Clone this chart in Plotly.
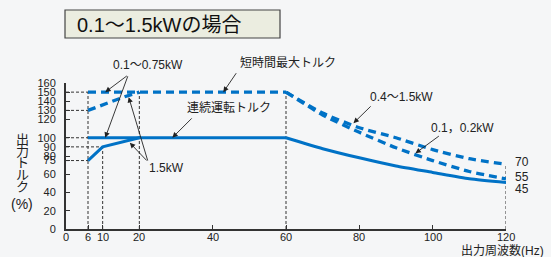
import plotly.graph_objects as go

# ---------------- data ----------------
# continuous torque (solid)
cont_075_x = [6, 60]
cont_075_y = [100, 100]
cont_15_x = [6, 10, 20]
cont_15_y = [75, 90, 100]
cont_high_x = [60, 70, 80, 90, 100, 110, 120]
cont_high_y = [100, 88, 78, 69, 62, 55, 51]

# short-time maximum torque (dashed)
max_075_x = [6, 60]
max_075_y = [150, 150]
max_15_x = [6, 16, 20]
max_15_y = [130, 145, 150]
max_small_x = [60, 70, 80, 90, 100, 110, 120]          # 0.1, 0.2kW
max_small_y = [150, 127, 111, 100, 87, 77, 71]
max_large_x = [60, 70, 80, 90, 100, 110, 120]          # 0.4~1.5kW
max_large_y = [150, 125, 106, 89, 75, 63, 55]

# guide lines (x0, y0, x1, y1)
guides = [
    (0, 150, 6, 150), (0, 130, 6, 130), (0, 100, 6, 100), (0, 90, 10, 90), (0, 75, 6, 75),
    (6, 0, 6, 150), (10, 0, 10, 90), (20, 0, 20, 150), (60, 0, 60, 150), (120, 0, 120, 70),
]

x_ticks = [0, 6, 10, 20, 40, 60, 80, 100, 120]
y_ticks = [0, 20, 40, 60, 75, 80, 90, 100, 120, 130, 140, 150, 160]
end_labels = ["70", "55", "45"]

BLUE = "#0072C6"
DARK = "#333333"
FONT = "Liberation Sans, Noto Sans CJK JP, sans-serif"
BG = "#f5f6f7"

L, T, PW, PH = 66, 83, 440, 146
W, H = 551, 257


def px(xp):
    return (xp - L) / PW


def py(yp):
    return (T + PH - yp) / PH


fig = go.Figure()

for (x0, y0, x1, y1) in guides:
    fig.add_trace(go.Scatter(x=[x0, x1], y=[y0, y1], mode="lines",
                             line=dict(color=DARK, width=1, dash="3px,2px"),
                             hoverinfo="skip"))

for xs, ys, shp in [(cont_075_x, cont_075_y, "linear"), (cont_15_x, cont_15_y, "linear"),
                    (cont_high_x, cont_high_y, "spline")]:
    fig.add_trace(go.Scatter(x=xs, y=ys, mode="lines",
                             line=dict(color=BLUE, width=3, shape=shp, smoothing=0.6)))

for xs, ys, shp in [(max_075_x, max_075_y, "linear"), (max_15_x, max_15_y, "linear"),
                    (max_small_x, max_small_y, "spline"), (max_large_x, max_large_y, "spline")]:
    fig.add_trace(go.Scatter(x=xs, y=ys, mode="lines",
                             line=dict(color=BLUE, width=3.3, dash="8px,5px",
                                       shape=shp, smoothing=0.6)))

# arrows: (head_x, head_y, tail_x, tail_y) in data units
arrows = [
    (10.7, 150, 17.0, 169), (10.7, 100, 17.0, 169),
    (17.1, 144.5, 22.4, 73.4), (17.4, 94.5, 22.4, 73.4),
    (42.9, 150, 46.7, 172.4),
    (29.0, 100, 34.7, 122.9),
    (78.4, 116, 83.5, 136),
    (95.3, 83, 102.1, 103),
]
for hx, hy, tx, ty in arrows:
    fig.add_annotation(x=hx, y=hy, ax=tx, ay=ty, axref="x", ayref="y",
                       text="", showarrow=True, arrowhead=2, arrowsize=1.2,
                       arrowwidth=0.9, arrowcolor="#222222")

# text labels (pixel centre positions)
texts = [
    ("0.1～0.75kW", 148, 65),
    ("1.5kW", 166, 168),
    ("短時間最大トルク", 288, 63),
    ("連続運転トルク", 229, 108),
    ("0.4～1.5kW", 401, 97),
    ("0.1，0.2kW", 462, 128),
]
for t, x, y in texts:
    fig.add_annotation(x=px(x), y=py(y), xref="paper", yref="paper", text=t,
                       xanchor="center", yanchor="middle", showarrow=False,
                       font=dict(family=FONT, size=12, color="#222222"))

for t, y in zip(end_labels, [162, 177, 188.5]):
    fig.add_annotation(x=px(513), y=py(y), xref="paper", yref="paper", text=t,
                       xanchor="left", yanchor="middle", showarrow=False,
                       font=dict(family=FONT, size=12, color="#222222"))

# x tick labels, placed on the x scale just under the axis
for v in x_ticks:
    fig.add_annotation(x=v, y=py(237.5), xref="x", yref="paper", text=str(v),
                       xanchor="center", yanchor="middle", showarrow=False,
                       font=dict(family=FONT, size=11, color="#222222"))

# y-axis title (vertical characters)
for ch, yp in zip(["出", "力", "ト", "ル", "ク"], [139, 151, 162.5, 174, 186]):
    fig.add_annotation(x=px(22), y=py(yp), xref="paper", yref="paper", text=ch,
                       xanchor="center", yanchor="middle",
                       showarrow=False, font=dict(family=FONT, size=13, color="#222222"))
fig.add_annotation(x=px(22), y=py(203.5), xref="paper", yref="paper", text="(%)",
                   xanchor="center", yanchor="middle",
                   showarrow=False, font=dict(family=FONT, size=14, color="#222222"))

fig.add_annotation(x=px(546), y=py(250), xref="paper", yref="paper", text="出力周波数(Hz)",
                   xanchor="right", yanchor="middle", showarrow=False,
                   font=dict(family=FONT, size=12, color="#222222"))

# title box
fig.add_shape(type="rect", xref="paper", yref="paper",
              x0=px(65), x1=px(280), y0=py(38), y1=py(10),
              fillcolor="#ebede0", line=dict(color="#444444", width=1.2))
fig.add_annotation(x=px(75), y=py(24.5), xref="paper", yref="paper",
                   text="0.1～1.5kWの場合", xanchor="left", yanchor="middle",
                   showarrow=False,
                   font=dict(family=FONT, size=20, color="#111111"))

fig.update_layout(
    width=W, height=H,
    margin=dict(l=L, r=W - L - PW, t=T, b=H - T - PH, autoexpand=False),
    paper_bgcolor=BG, plot_bgcolor=BG,
    showlegend=False,
    font=dict(family=FONT, size=12, color=DARK),
)
fig.update_xaxes(range=[0, 120], tickvals=x_ticks, showticklabels=False,
                 showgrid=False, zeroline=False, showline=True, linecolor=DARK,
                 linewidth=2, ticks="inside", ticklen=4, tickcolor=DARK, automargin=False)
fig.update_yaxes(range=[0, 160], tickvals=y_ticks, ticktext=[str(v) for v in y_ticks],
                 showgrid=False, zeroline=False, showline=True, linecolor=DARK,
                 linewidth=2, ticks="inside", ticklen=4, tickcolor=DARK, automargin=False,
                 ticklabelstandoff=6,
                 tickfont=dict(family=FONT, size=11, color="#222222"))

fig.write_html("out.html", config={"displayModeBar": False},
               post_script="document.body.style.margin='0';document.body.style.background='%s';" % BG)
